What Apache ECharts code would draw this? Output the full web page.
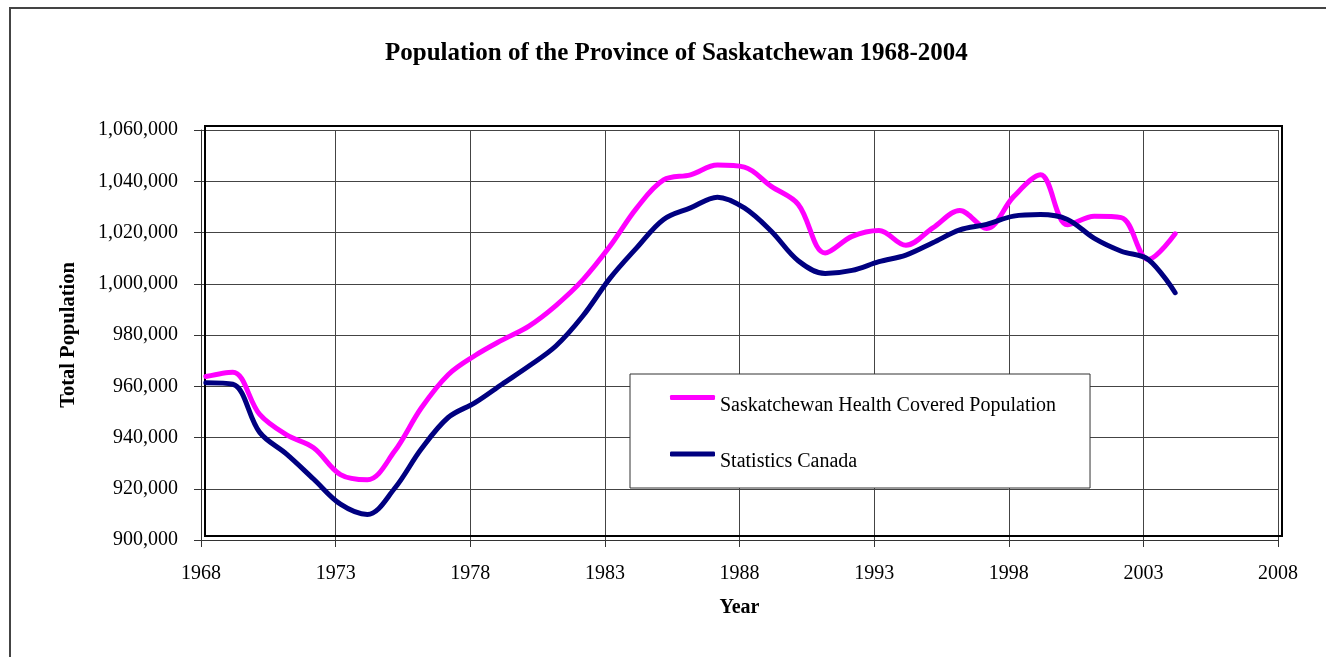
<!DOCTYPE html>
<html>
<head>
<meta charset="utf-8">
<title>Population of the Province of Saskatchewan 1968-2004</title>
<script src="https://cdn.jsdelivr.net/npm/echarts@6/dist/echarts.min.js"></script>
<style>
  html, body { margin: 0; padding: 0; background: #fff; }
  #chart { width: 1326px; height: 657px; }
</style>
</head>
<body>
<div id="chart"></div>
<script>
// yearly counts
const years = [
  1968, 1969, 1970, 1971, 1972, 1973, 1974, 1975, 1976, 1977,
  1978, 1979, 1980, 1981, 1982, 1983, 1984, 1985, 1986, 1987,
  1988, 1989, 1990, 1991, 1992, 1993, 1994, 1995, 1996, 1997,
  1998, 1999, 2000, 2001, 2002, 2003, 2004
]
// counts are plotted a little after Jan 1 of each year
const countDateOffset = 0.18

const healthCovered = [
  963800, 965500, 949000, 941000, 936000, 925500, 923500, 934500, 951500, 964500,
  972000, 978000, 983500, 991500, 1001500, 1014500, 1029500, 1040500, 1042500, 1046300,
  1045500, 1038000, 1031000, 1012000, 1018500, 1020800, 1015000, 1021800, 1028600, 1021600,
  1034000, 1042500, 1023000, 1026300, 1025800, 1009500, 1019500
]

const statsCanada = [
  961400, 960800, 942000, 933500, 923800, 914000, 910000, 920000, 935500, 947800,
  953600, 960800, 967900, 975700, 987400, 1002000, 1014000, 1025100, 1029600, 1033800,
  1029600, 1020500, 1009000, 1004000, 1005200, 1008600, 1011200, 1016000, 1021000, 1023200,
  1026400, 1027000, 1025100, 1017700, 1012700, 1009500, 996500
]

const xTicks = [1968, 1973, 1978, 1983, 1988, 1993, 1998, 2003, 2008]
const yTicks = [900000, 920000, 940000, 960000, 980000, 1000000, 1020000, 1040000, 1060000]

const serif = "'Liberation Serif', 'Times New Roman', serif"

const toPoints = values => years.map((y, i) => [y + countDateOffset, values[i]])

const chart = echarts.init(document.getElementById('chart'))

const option = {
    backgroundColor: '#fff',
    animation: false,
    title: {
        text: 'Population of the Province of Saskatchewan 1968-2004',
        left: 385,
        top: 41,
        padding: 0,
        textStyle: { fontFamily: serif, fontSize: 25, fontWeight: 'bold', color: '#000' }
    },
    grid: { left: 201, right: 48, top: 130, bottom: 117, containLabel: false },
    legend: {
        orient: 'vertical',
        left: 630,
        top: 374,
        padding: [21, 34, 16, 40],
        itemWidth: 45,
        itemHeight: 5,
        itemGap: 36,
        icon: 'roundRect',
        backgroundColor: '#fff',
        borderColor: '#333',
        borderWidth: 1,
        borderRadius: 0,
        formatter: name => '{t|' + name + '}',
        textStyle: {
            fontFamily: serif,
            fontSize: 20,
            color: '#000',
            rich: {
                t: { fontFamily: serif, fontSize: 20, color: '#000', padding: [16, 0, 0, 0] }
            }
        },
        data: ['Saskatchewan Health Covered Population', 'Statistics Canada']
    },
    graphic: [
        {
            type: 'rect',
            shape: { x: 10, y: 8, width: 1340, height: 700 },
            style: { fill: null, stroke: '#444', lineWidth: 2 },
            silent: true
        },
        {
            type: 'rect',
            shape: { x: 205, y: 126, width: 1077, height: 410 },
            style: { fill: null, stroke: '#000', lineWidth: 2 },
            silent: true,
            z: 1
        }
    ],
    xAxis: {
        type: 'value',
        min: xTicks[0],
        max: xTicks[xTicks.length - 1],
        interval: xTicks[1] - xTicks[0],
        name: 'Year',
        nameLocation: 'middle',
        nameGap: 58,
        nameTextStyle: { fontFamily: serif, fontSize: 20, fontWeight: 'bold', color: '#000' },
        axisLine: { show: true, lineStyle: { color: '#333', width: 1 } },
        axisTick: { show: true, length: 7, lineStyle: { color: '#333' } },
        axisLabel: {
            margin: 24,
            fontFamily: serif,
            fontSize: 20,
            color: '#000',
            formatter: v => String(v)
        },
        splitLine: { show: true, lineStyle: { color: '#444', width: 1 } }
    },
    yAxis: {
        type: 'value',
        min: yTicks[0],
        max: yTicks[yTicks.length - 1],
        interval: yTicks[1] - yTicks[0],
        name: 'Total Population',
        nameLocation: 'middle',
        nameGap: 122,
        nameTextStyle: { fontFamily: serif, fontSize: 20.5, fontWeight: 'bold', color: '#000' },
        axisLine: { show: true, lineStyle: { color: '#333', width: 1 } },
        axisTick: { show: true, length: 7, lineStyle: { color: '#333' } },
        axisLabel: {
            margin: 23,
            fontFamily: serif,
            fontSize: 20,
            color: '#000',
            formatter: v => v.toLocaleString('en-US')
        },
        splitLine: { show: true, lineStyle: { color: '#444', width: 1 } }
    },
    series: [
        {
            name: 'Saskatchewan Health Covered Population',
            type: 'line',
            data: toPoints(healthCovered),
            smooth: 0.35,
            showSymbol: false,
            color: '#ff00ff',
            lineStyle: { color: '#ff00ff', width: 5, cap: 'round', join: 'round' },
            z: 3
        },
        {
            name: 'Statistics Canada',
            type: 'line',
            data: toPoints(statsCanada),
            smooth: 0.35,
            showSymbol: false,
            color: '#000080',
            lineStyle: { color: '#000080', width: 5, cap: 'round', join: 'round' },
            z: 4
        }
    ]
}

chart.setOption(option)
</script>
</body>
</html>
